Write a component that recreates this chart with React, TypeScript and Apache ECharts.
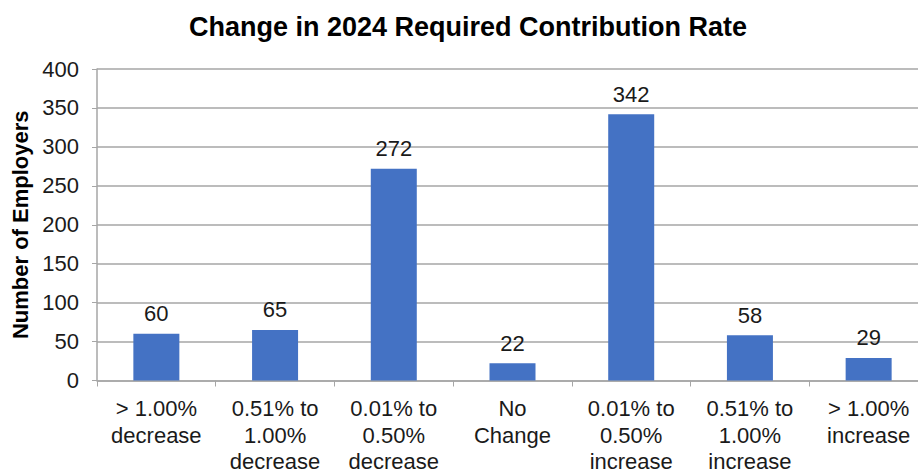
import React, { useEffect, useRef } from "react";
import * as echarts from "echarts";

const categories = [
  "> 1.00%\ndecrease",
  "0.51% to\n1.00%\ndecrease",
  "0.01% to\n0.50%\ndecrease",
  "No\nChange",
  "0.01% to\n0.50%\nincrease",
  "0.51% to\n1.00%\nincrease",
  "> 1.00%\nincrease",
];
const employers = [60, 65, 272, 22, 342, 58, 29];
const titleText = "Change in 2024 Required Contribution Rate";
const yAxisName = "Number of Employers";

export default function App() {
  const ref = useRef<HTMLDivElement>(null);
  useEffect(() => {
    const chart = echarts.init(ref.current!, null, { renderer: "svg" });
    const font = "'Liberation Sans', Arial, sans-serif";
    chart.setOption({
      animation: false,
      title: {
        text: titleText,
        left: 463,
        textAlign: "center",
        top: 8,
        textStyle: { fontFamily: font, fontSize: 27, fontWeight: "bold", color: "#000" },
      },
      grid: { left: 97, top: 69, width: 831, height: 313 },
      xAxis: {
        type: "category",
        data: categories,
        axisLine: { lineStyle: { color: "#A6A6A6", width: 1.5 } },
        axisTick: { show: true, length: 6, alignWithLabel: false, lineStyle: { color: "#A6A6A6" } },
        axisLabel: {
          interval: 0,
          fontFamily: font,
          fontSize: 22,
          color: "#1a1a1a",
          lineHeight: 26.5,
          margin: 15,
        },
      },
      yAxis: {
        type: "value",
        min: 0,
        max: 400,
        interval: 50,
        name: yAxisName,
        nameLocation: "middle",
        nameRotate: 90,
        nameGap: 64,
        nameTextStyle: { fontFamily: font, fontSize: 22, fontWeight: "bold", color: "#000" },
        axisLine: { show: true, lineStyle: { color: "#A6A6A6", width: 1.5 } },
        axisTick: { show: true, length: 5, inside: false, lineStyle: { color: "#A6A6A6" } },
        splitLine: { lineStyle: { color: "#A6A6A6", width: 1.5 } },
        axisLabel: { fontFamily: font, fontSize: 22, color: "#1a1a1a", margin: 18 },
      },
      series: [
        {
          type: "bar",
          data: employers,
          barWidth: 46,
          itemStyle: { color: "#4472C4" },
          label: {
            show: true,
            position: "top",
            distance: 9,
            fontFamily: font,
            fontSize: 22,
            color: "#1a1a1a",
          },
        },
      ],
    });
    return () => chart.dispose();
  }, []);
  return (
    <div style={{ width: 918, height: 475, position: "absolute", left: 0, top: 0, overflow: "hidden" }}>
      <div ref={ref} style={{ width: 950, height: 475 }} />
    </div>
  );
}
